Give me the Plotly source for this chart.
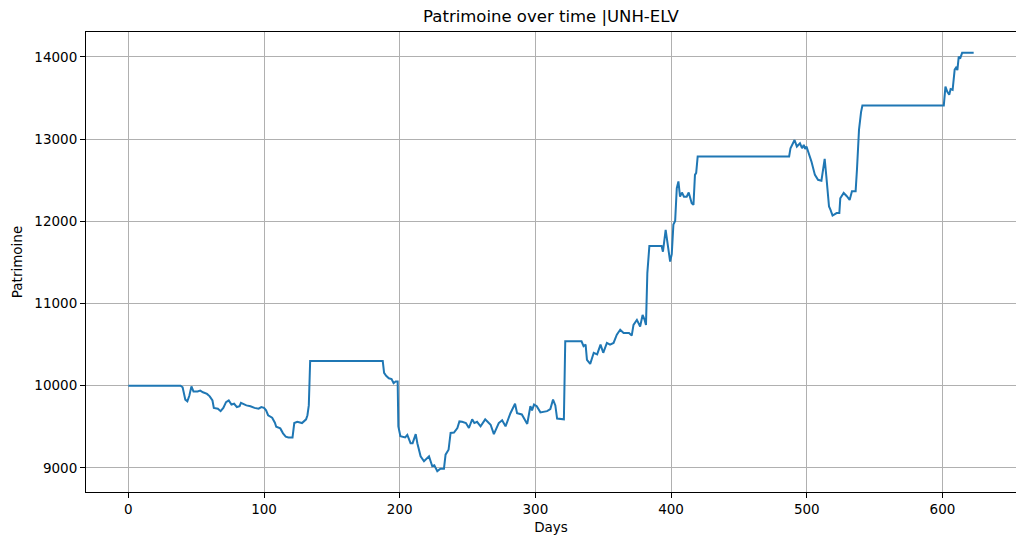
import plotly.graph_objects as go

# daily wealth curve (breakpoints)
days = [0, 38.5, 40, 42, 43.5, 45, 46.5, 48, 51, 53, 55, 58, 60, 62, 63, 66, 68, 70, 72, 74,
        76, 78, 80, 82, 83, 85, 87, 90, 93, 96, 98, 100, 101.5, 103, 106, 108, 109, 112, 114, 116,
        118, 121, 122.3, 124.5, 128, 131, 132, 133, 134, 187.5, 188.5, 190, 192, 194, 195.5, 197, 198.5, 199,
        200.5, 204, 205.6, 208, 209.5, 211.8, 213, 215.4, 217.9, 221.6, 224, 225.5, 227.7, 230, 232.6, 233.8,
        236, 237.5, 240, 242.5, 244, 246, 248.8, 251, 253.4, 255, 257, 259.6, 263, 265.7, 267, 269.4,
        273, 275.5, 278, 281.6, 285, 286.5, 290, 294, 296.3, 297.5, 299, 301, 303.7, 308.6, 311, 313,
        314.7, 316, 321, 322, 334, 335.5, 337, 338, 340.4, 343, 345.5, 348, 350, 352.7, 355, 357.6,
        360, 362.5, 365, 369, 371, 372.3, 374.8, 377.2, 379, 380.5, 381.5, 382.5, 384, 393, 394, 396,
        397.3, 399.3, 400.5, 401.7, 403, 404.2, 405.4, 406.6, 408, 409.5, 411.5, 413, 415.2, 416.5, 417.6, 418.5,
        419.6, 487, 488, 489.5, 491, 492.7, 495, 496.5, 497.8, 498.8, 499.8, 501, 503.4, 506, 508.3, 510.8,
        513.2, 514.4, 516.4, 517.5, 519, 522, 524, 524.7, 527.2, 529.5, 531.6, 533.3, 536, 537, 538.5, 540,
        541, 601, 602.2, 603.5, 605, 606, 607.5, 609, 610, 611, 612, 613, 614.5, 623]
patrimoine = [10000, 10000, 9980, 9830, 9810, 9880, 9990, 9930, 9930, 9940, 9920, 9900, 9870, 9820, 9730, 9720, 9690, 9730, 9800, 9820,
              9770, 9780, 9740, 9750, 9790, 9770, 9760, 9750, 9730, 9720, 9740, 9730, 9700, 9640, 9610, 9550, 9500, 9480, 9420, 9380,
              9370, 9370, 9545, 9560, 9545, 9590, 9640, 9760, 10300, 10300, 10155, 10120, 10090, 10080, 10030, 10050, 10050, 9505,
              9385, 9370, 9400, 9300, 9300, 9410, 9300, 9140, 9080, 9140, 9020, 9030, 8960, 8990, 8990, 9160,
              9220, 9425, 9430, 9485, 9565, 9560, 9545, 9485, 9590, 9545, 9560, 9505, 9590, 9545, 9525, 9410,
              9545, 9580, 9505, 9665, 9780, 9665, 9650, 9535, 9750, 9700, 9770, 9750, 9675, 9690, 9715, 9830,
              9760, 9600, 9590, 10540, 10540, 10480, 10500, 10315, 10265, 10400, 10380, 10500, 10400, 10520, 10500, 10520,
              10620, 10680, 10640, 10640, 10610, 10740, 10800, 10720, 10860, 10800, 10740, 11370, 11700, 11700, 11630, 11895,
              11750, 11510, 11600, 11960, 12005, 12405, 12485, 12300, 12350, 12300, 12300, 12350, 12220, 12200, 12565, 12590,
              12790, 12790, 12890, 12950, 12990, 12910, 12950, 12890, 12930, 12880, 12910, 12850, 12730, 12565, 12505, 12495,
              12760, 12550, 12180, 12140, 12070, 12100, 12100, 12280, 12345, 12305, 12260, 12365, 12365, 12630, 13115, 13330,
              13410, 13410, 13640, 13580, 13540, 13610, 13600, 13845, 13870, 13840, 14005, 13980, 14050, 14050]

x_ticks = [0, 100, 200, 300, 400, 500, 600]
y_ticks = [9000, 10000, 11000, 12000, 13000, 14000]

fig = go.Figure(
    data=[
        go.Scatter(x=days, y=patrimoine, mode='lines',
                   line=dict(color='#1f77b4', width=2), name='Patrimoine')
    ]
)

axis_style = dict(showline=True, linecolor='black', linewidth=1, mirror=True,
                  ticks='outside', ticklen=5, tickcolor='black', tickwidth=1,
                  showgrid=True, gridcolor='#b0b0b0', gridwidth=1, zeroline=False,
                  tickformat='d', tickfont=dict(size=13.5, color='black'))

# page has an 8px body margin, so the figure is shrunk by that much
fig.update_layout(
    width=1016, height=538,
    margin=dict(l=78, r=8, t=24, b=54),
    paper_bgcolor='white', plot_bgcolor='white',
    font=dict(family='DejaVu Sans', color='black'),
    showlegend=False,
    title=dict(text='Patrimoine over time |UNH-ELV', x=0.5, xref='paper', xanchor='center',
               y=1 - 8.5 / 538, yanchor='middle', font=dict(size=16.5)),
)
fig.update_xaxes(range=[-31.2, 654.2], tickvals=x_ticks,
                 title=dict(text='Days', font=dict(size=13.5), standoff=6), **axis_style)
fig.update_yaxes(range=[8706, 14304], tickvals=y_ticks,
                 title=dict(text='Patrimoine', font=dict(size=13.5), standoff=8), **axis_style)

fig.write_html("out.html")
